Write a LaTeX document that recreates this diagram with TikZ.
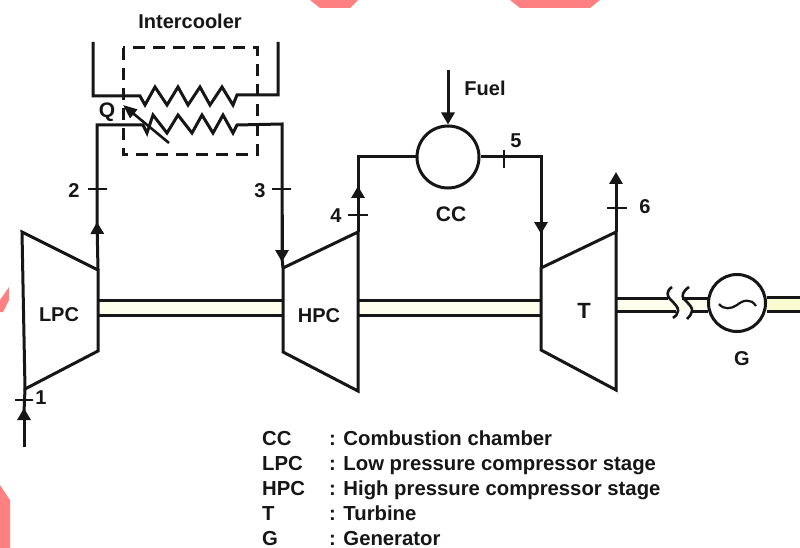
\documentclass[tikz,border=0pt]{standalone}
\usepackage{fontspec}
\setmainfont{Liberation Sans}
\usetikzlibrary{arrows.meta}
\definecolor{pinkc}{HTML}{FF8080}
\definecolor{shaftc}{HTML}{FDFEEC}
\definecolor{shaftd}{HTML}{F8FBCF}
\definecolor{inkc}{HTML}{161616}
\tikzset{
 ln/.style={line width=3pt,inkc,line join=miter},
 arw/.style={ln,-{Triangle[length=12pt,width=13pt]}},
 tick/.style={line width=2.6pt,inkc},
 lbl/.style={font=\bfseries\fontsize{20}{20}\selectfont,inner sep=0pt,text=inkc},
 leg/.style={font=\fontsize{20.3}{20.3}\selectfont\bfseries,anchor=base west,inner sep=0pt,text=inkc},
 nd/.style={circle,draw=inkc,line width=3pt,fill=white,inner sep=0pt}
}
\begin{document}
\begin{tikzpicture}[x=1pt,y=-1pt]
\useasboundingbox (0,0) rectangle (800,548);
\fill[white] (0,0) rectangle (800,548);
% pink marks
\fill[pinkc] (310,0)--(358,0)--(350,8)--(320,8)--cycle;
\fill[pinkc] (510,0)--(600,0)--(590,8)--(520,8)--cycle;
\fill[pinkc] (9,287)--(9,300)--(3,312)--(0,312)--(0,300)--cycle;
\fill[pinkc] (0,485)--(10,500)--(10,548)--(0,548)--cycle;
% shaft tint
\fill[shaftc] (98,302) rectangle (283,314);
\fill[shaftc] (358,302) rectangle (541,314);
\fill[shaftc] (616,300) rectangle (707,310);
\fill[shaftd] (766,299) rectangle (800,310);
% coordinates
\coordinate (lpcTL) at (22,232); \coordinate (lpcTR) at (98,270);
\coordinate (lpcBR) at (98,351); \coordinate (lpcBL) at (25,389);
\coordinate (hpcTL) at (283,268); \coordinate (hpcTR) at (358,232);
\coordinate (hpcBR) at (358,391); \coordinate (hpcBL) at (283,352);
\coordinate (tTL) at (541,268); \coordinate (tTR) at (616,232);
\coordinate (tBR) at (616,390); \coordinate (tBL) at (541,350);
% machines
\draw[ln] (lpcTL)--(lpcTR)--(lpcBR)--(lpcBL)--cycle;
\draw[ln] (hpcTL)--(hpcTR)--(hpcBR)--(hpcBL)--cycle;
\draw[ln] (tTL)--(tTR)--(tBR)--(tBL)--cycle;
\node[lbl] (lpc) at (59,315) {LPC};
\node[lbl] (hpc) at (319,316) {HPC};
\node[lbl,font=\bfseries\fontsize{22}{22}\selectfont] (tur) at (584,311) {T};
% shafts
\draw[ln] (lpcTR|-0,300)--(hpcTL|-0,300);
\draw[ln] (lpcTR|-0,315)--(hpcTL|-0,315);
\draw[ln] (hpcTR|-0,300)--(tTL|-0,300);
\draw[ln] (hpcTR|-0,315)--(tTL|-0,315);
% generator
\node[nd,minimum size=57pt] (gen) at (737,303) {};
\draw[ln] (616,298)--(668,298);
\draw[ln] (616,311)--(676,311);
\draw[ln] (682,298)--(708,298);
\draw[ln] (692,311)--(708,311);
\draw[ln] (gen.east|-0,297)--(800,297);
\draw[ln] (gen.east|-0,311)--(800,311);
\draw[line width=2.6pt,inkc] (672,287) .. controls (666,291) and (667,296) .. (670,299) .. controls (675,304) and (679,308) .. (678,311) .. controls (677,314) and (676,317) .. (673,318);
\draw[line width=2.6pt,inkc] (689,287) .. controls (683,291) and (681,296) .. (684,299) .. controls (689,304) and (693,308) .. (692,311) .. controls (691,314) and (690,317) .. (687,319);
\draw[line width=2.2pt,inkc] (719,304) .. controls (724,310) and (731,309) .. (737,305) .. controls (743,300) and (751,298) .. (756,306);
\node[lbl] (glab) at (742,359) {G};
% flow 1
\coordinate (in1) at (24,447);
\draw[arw] (in1)--(24,408);
\draw[ln] (24,412)--(lpcBL);
\draw[tick] (15,400)--(33,400);
\node[lbl] (n1) at (41,398) {1};
% flow 2 with lower coil
\draw[arw] (lpcTR)--(97,222);
\draw[ln] (97,226)--(97,125)--(143,125)--(147,133)--(153,115)--(167,133)--(178,115)--(192,133)--(202,115)--(213,133)--(223,115)--(233,133)--(237,125)--(282,124)--(282,250);
\draw[arw] (282,215)--(282,262);
\draw[ln] (282,258)--(hpcTL);
\draw[tick] (88,189)--(107,189);
\node[lbl] (n2) at (74,191) {2};
\draw[tick] (272,189)--(291,189);
\node[lbl] (n3) at (260,191) {3};
% upper coil
\coordinate (u1) at (93,42); \coordinate (u2) at (278,42);
\draw[ln] (u1)--(93,96)--(140,96)--(145,105)--(155,87)--(167,105)--(178,87)--(188,105)--(200,87)--(210,105)--(222,87)--(233,105)--(237,95)--(278,95)--(u2);
% dashed box
\draw[line width=3pt,inkc,dash pattern=on 12pt off 8pt] (123,48) rectangle (257,155);
% Q and diagonal
\node[lbl,font=\bfseries\fontsize{21}{21}\selectfont] (q) at (107,112) {Q};
\coordinate (qe) at (169,143);
\draw[line width=2.6pt,inkc,-{Triangle[length=14pt,width=11pt]}] (qe)--(123,105);
\node[lbl] (ic) at (190,21) {Intercooler};
% flow 4
\node[nd,minimum size=62pt] (cc) at (448,157) {};
\draw[arw] (hpcTR)--(358,186);
\draw[ln] (358,192)--(358,157)--(cc.west);
\draw[tick] (348,215)--(368,215);
\node[lbl] (n4) at (336,216) {4};
\node[lbl,font=\bfseries\fontsize{21}{21}\selectfont] (cclab) at (451,214) {CC};
% flow 5
\draw[ln] (cc.east)--(541,157)--(541,225);
\draw[arw] (541,210)--(541,234);
\draw[ln] (541,230)--(tTL);
\draw[tick] (504,150)--(504,168);
\node[lbl] (n5) at (516,141) {5};
% fuel
\coordinate (fu) at (448,70);
\draw[arw] (fu)--(cc.north);
\node[lbl] (fl) at (485,88) {Fuel};
% flow 6
\coordinate (o6) at (616,172);
\draw[arw] (tTR)--(o6);
\draw[tick] (607,208)--(627,208);
\node[lbl] (n6) at (645,207) {6};
% legend
\node[leg] (l1a) at (262,445) {CC}; \node[leg] (l1b) at (329,445) {: Combustion chamber};
\node[leg] (l2a) at (262,470) {LPC}; \node[leg] (l2b) at (329,470) {: Low pressure compressor stage};
\node[leg] (l3a) at (262,495) {HPC}; \node[leg] (l3b) at (329,495) {: High pressure compressor stage};
\node[leg] (l4a) at (262,520) {T}; \node[leg] (l4b) at (329,520) {: Turbine};
\node[leg] (l5a) at (262,545) {G}; \node[leg] (l5b) at (329,545) {: Generator};
\end{tikzpicture}
\end{document}
